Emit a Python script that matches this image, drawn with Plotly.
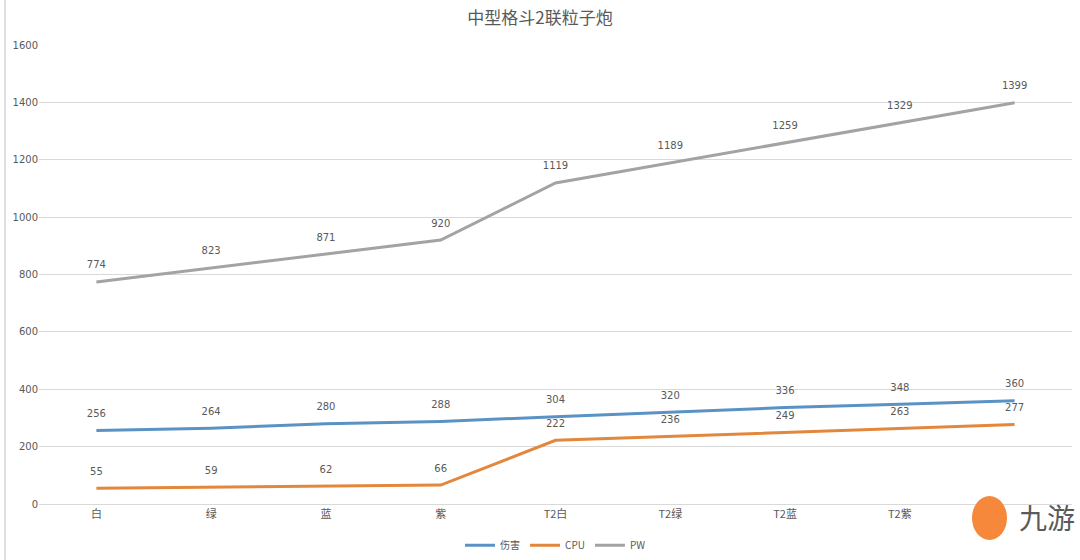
import plotly.graph_objects as go

categories = ["白", "绿", "蓝", "紫", "T2白", "T2绿", "T2蓝", "T2紫", "T2?"]
tick_labels = ["白", "绿", "蓝", "紫", "T2白", "T2绿", "T2蓝", "T2紫", ""]
damage = [256, 264, 280, 288, 304, 320, 336, 348, 360]
cpu = [55, 59, 62, 66, 222, 236, 249, 263, 277]
pw = [774, 823, 871, 920, 1119, 1189, 1259, 1329, 1399]

FONT = "DejaVu Sans, Noto Sans CJK SC, sans-serif"
CJK = "Noto Sans CJK SC, sans-serif"
series = [("伤害", damage, "#5A92C4"), ("CPU", cpu, "#E3873D"), ("PW", pw, "#A3A3A3")]

fig = go.Figure()
for name, vals, color in series:
    fig.add_trace(go.Scatter(
        x=categories, y=vals, name=name, mode="lines",
        line=dict(color=color, width=3),
    ))
for name, vals, color in series:
    fig.add_trace(go.Scatter(
        x=categories, y=vals, name=name, mode="markers+text", showlegend=False,
        marker=dict(size=16, opacity=0, color=color),
        text=[str(v) for v in vals], textposition="top center",
        textfont=dict(family=FONT, size=10, color="#595959"),
        cliponaxis=False, hoverinfo="skip",
    ))

fig.update_layout(
    width=1080, height=560,
    margin=dict(l=39, r=8, t=45, b=56, autoexpand=False),
    paper_bgcolor="white", plot_bgcolor="white",
    title=dict(text="中型格斗2联粒子炮", x=0.5, xanchor="center", y=0.968, yanchor="middle",
               font=dict(family=CJK, size=17, color="#595959")),
    font=dict(family=FONT, color="#595959"),
    xaxis=dict(tickmode="array", tickvals=categories, ticktext=tick_labels,
               range=[-0.5, 8.5], autorange=False,
               tickfont=dict(family=CJK, size=11, color="#595959"), showgrid=False,
               showline=True, linecolor="#d9d9d9", linewidth=1, ticks=""),
    yaxis=dict(range=[0, 1600], dtick=200, tickfont=dict(size=10, color="#595959"),
               gridcolor="#d9d9d9", gridwidth=1, zeroline=False, ticks="",
               tickformat="d"),
    legend=dict(orientation="h", x=0.5, xanchor="center", y=-0.09, yanchor="middle",
                font=dict(family=CJK, size=10, color="#595959"), itemwidth=30),
    showlegend=True,
)

# watermark (九游 logo) covering lower-right corner
fig.add_shape(type="circle", xref="paper", yref="paper",
              x0=(972 - 39) / 1033, x1=(1007 - 39) / 1033,
              y0=(504 - 540) / 459, y1=(504 - 496) / 459,
              fillcolor="#F5883A", line=dict(width=0), layer="above")
fig.add_annotation(text="九游", xref="paper", yref="paper",
                   x=(1047 - 39) / 1033, y=(504 - 517) / 459,
                   showarrow=False, font=dict(family=CJK, size=28, color="#5a5a5a"),
                   xanchor="center", yanchor="middle")
fig.add_shape(type="line", xref="paper", yref="paper",
              x0=-34 / 1033, x1=-34 / 1033, y0=-56 / 459, y1=505 / 459,
              line=dict(color="#e0e0e0", width=2))

fig.write_html("out.html")
